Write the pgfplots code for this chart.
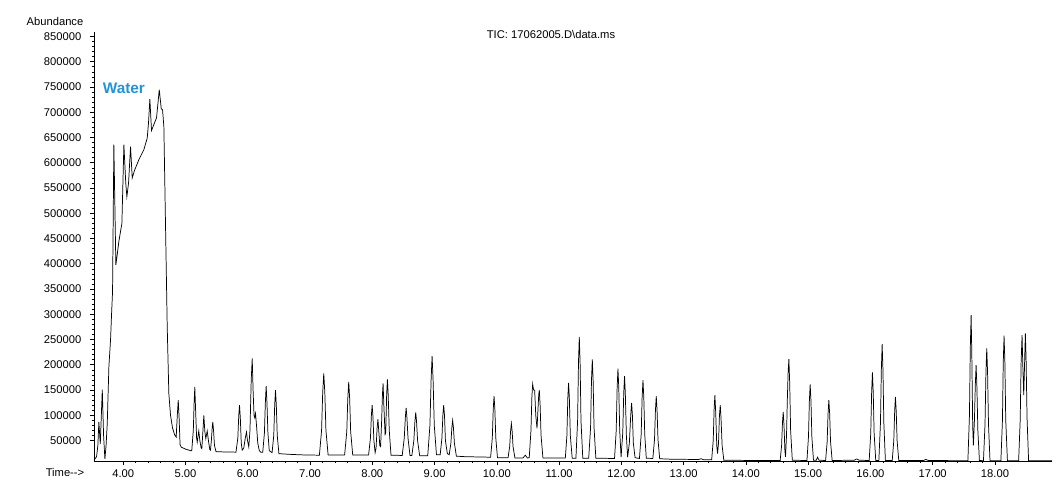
\documentclass[border=0pt]{standalone}
\usepackage{fontspec}
\setmainfont{Liberation Sans}
\usepackage{pgfplots}
\usepackage{pgfplotstable}
\pgfplotsset{compat=1.18}
\definecolor{waterblue}{RGB}{36,146,214}

\pgfplotstableread{
t v
3.530 11000
3.571 18000
3.592 40000
3.608 87000
3.631 43000
3.663 151000
3.684 60000
3.705 13500
3.724 40000
3.743 84000
3.769 196000
3.796 250000
3.812 300000
3.828 345000
3.849 636000
3.881 398000
3.900 415000
3.929 444000
3.978 480000
4.010 636000
4.040 560000
4.058 533000
4.085 560000
4.117 632000
4.144 570000
4.181 585000
4.250 606000
4.331 626000
4.385 649000
4.406 680000
4.427 726000
4.454 664000
4.502 679000
4.534 689000
4.559 720000
4.578 745000
4.610 707000
4.631 705000
4.652 672000
4.679 474000
4.706 275000
4.732 143000
4.759 100000
4.791 75000
4.823 62000
4.850 57000
4.868 100000
4.883 130000
4.897 95000
4.912 42000
4.930 37000
5.000 33000
5.080 30000
5.100 30000
5.125 70000
5.138 125000
5.149 156000
5.162 110000
5.178 55000
5.188 47000
5.200 58000
5.213 69000
5.230 50000
5.250 36000
5.262 34000
5.275 60000
5.294 100000
5.310 68000
5.326 54000
5.348 69000
5.370 48000
5.390 32000
5.401 31000
5.415 50000
5.428 75000
5.438 87000
5.450 70000
5.465 40000
5.490 28000
5.600 27500
5.810 27000
5.840 55000
5.855 100000
5.867 120000
5.880 95000
5.895 45000
5.910 31000
5.935 35000
5.960 55000
5.979 67000
5.995 50000
6.016 37300
6.035 70000
6.055 170000
6.071 212700
6.085 150000
6.100 100000
6.112 95000
6.124 103500
6.140 80000
6.160 45000
6.185 30000
6.210 27000
6.240 27000
6.267 65000
6.282 125000
6.295 157700
6.308 125000
6.323 65000
6.345 30000
6.390 26000
6.417 60000
6.432 120000
6.445 149800
6.458 120000
6.473 60000
6.500 24000
6.700 22500
6.900 21500
7.150 21000
7.185 70000
7.203 145000
7.220 182900
7.237 145000
7.255 70000
7.290 21500
7.555 21500
7.590 68000
7.606 133000
7.621 166200
7.636 133000
7.652 68000
7.685 21500
7.940 21500
7.970 55000
7.985 100000
7.997 120000
8.010 98000
8.025 50000
8.045 26000
8.060 35000
8.077 75000
8.090 92200
8.103 70000
8.120 40000
8.133 38000
8.150 90000
8.162 140000
8.173 163000
8.185 120000
8.205 62000
8.215 65000
8.230 140000
8.242 171000
8.255 140000
8.272 70000
8.300 21000
8.480 20500
8.513 55000
8.530 95000
8.543 114700
8.556 95000
8.573 55000
8.605 20500
8.635 20500
8.667 50000
8.684 88000
8.697 105500
8.710 88000
8.727 50000
8.760 20000
8.890 20000
8.925 80000
8.944 170000
8.960 217200
8.976 170000
8.995 80000
9.030 22000
9.090 22000
9.118 55000
9.133 100000
9.146 120000
9.159 100000
9.174 50000
9.205 24000
9.235 22000
9.262 45000
9.277 75000
9.290 90000
9.303 75000
9.318 45000
9.350 19000
9.500 18000
9.900 17000
9.927 55000
9.942 112000
9.955 138000
9.968 112000
9.983 55000
10.010 16000
10.180 16000
10.206 38000
10.220 68000
10.233 83700
10.246 68000
10.260 38000
10.290 15500
10.420 15500
10.457 21000
10.490 15500
10.520 16000
10.548 70000
10.562 135000
10.575 161700
10.590 150000
10.607 149800
10.625 100000
10.645 74000
10.660 110000
10.672 140000
10.682 149800
10.695 120000
10.710 60000
10.740 15500
11.100 15500
11.125 60000
11.140 135000
11.152 164300
11.164 135000
11.180 60000
11.210 15000
11.270 15000
11.297 90000
11.311 205000
11.324 255500
11.337 205000
11.351 90000
11.380 15000
11.475 15000
11.505 75000
11.520 170000
11.533 210600
11.546 170000
11.561 75000
11.590 15000
11.890 14500
11.917 70000
11.932 155000
11.945 192500
11.958 155000
11.973 70000
11.995 17000
12.022 65000
12.038 145000
12.051 177600
12.064 140000
12.080 60000
12.100 17000
12.128 45000
12.150 100000
12.164 124600
12.177 100000
12.192 45000
12.220 16000
12.290 14500
12.318 62000
12.333 135000
12.347 169600
12.360 135000
12.375 62000
12.400 15000
12.505 14500
12.532 52000
12.547 110000
12.560 137900
12.573 110000
12.588 52000
12.615 14000
12.800 13000
13.240 12500
13.280 14000
13.320 12000
13.450 12000
13.475 50000
13.490 115000
13.502 139800
13.515 105000
13.532 40000
13.544 24000
13.560 45000
13.575 100000
13.588 120000
13.600 95000
13.618 40000
13.645 11000
14.200 10500
14.550 10500
14.573 40000
14.587 85000
14.599 106700
14.612 80000
14.626 30000
14.636 17500
14.652 60000
14.665 130000
14.678 185000
14.690 211300
14.703 165000
14.718 70000
14.745 11000
14.980 10500
15.005 58000
15.019 128000
15.032 161000
15.045 128000
15.059 58000
15.085 11000
15.130 11000
15.150 17000
15.175 11000
15.280 10500
15.305 48000
15.319 103000
15.332 130000
15.345 103000
15.359 48000
15.385 10500
15.740 11000
15.780 13600
15.820 11000
15.980 10500
16.005 65000
16.019 145000
16.032 185000
16.045 145000
16.059 65000
16.085 10500
16.135 10500
16.161 85000
16.175 190000
16.188 241000
16.201 190000
16.215 85000
16.240 10500
16.350 10500
16.375 50000
16.389 108000
16.401 136500
16.414 108000
16.428 50000
16.455 10500
16.850 10500
16.890 12500
16.930 10500
17.565 10000
17.590 100000
17.604 235000
17.617 298500
17.628 220000
17.642 80000
17.653 40700
17.670 90000
17.684 160000
17.697 199400
17.710 155000
17.725 70000
17.750 10500
17.815 10000
17.840 82000
17.855 185000
17.868 232500
17.881 185000
17.896 82000
17.920 10000
18.095 10000
18.120 90000
18.133 205000
18.146 257500
18.159 205000
18.173 90000
18.200 10000
18.380 10000
18.405 90000
18.420 205000
18.435 258900
18.449 190000
18.462 139800
18.475 200000
18.488 262200
18.500 210000
18.515 95000
18.540 10000
18.916 9800
}\tic

\begin{document}
\begin{tikzpicture}
\useasboundingbox (-70.5pt,-17.25pt) rectangle (723.75pt,345.75pt);
\begin{axis}[
  at={(0pt,0pt)}, anchor=south west,
  scale only axis, width=718.5pt, height=321.75pt,
  xmin=3.53, xmax=18.916, ymin=9500, ymax=859000,
  axis lines*=left,
  axis line style={black, line width=0.6pt},
  xtick={4,5,6,7,8,9,10,11,12,13,14,15,16,17,18},
  minor x tick num=4,
  ytick={50000,100000,150000,200000,250000,300000,350000,400000,450000,500000,550000,600000,650000,700000,750000,800000,850000},
  minor y tick num=4,
  tick align=outside,
  major tick length=3pt, minor tick length=1.6pt,
  tick style={black, line width=0.5pt},
  scaled y ticks=false,
  /pgf/number format/assume math mode=true,
  yticklabel style={/pgf/number format/fixed, /pgf/number format/1000 sep={}, xshift=-3pt},
  xticklabel style={/pgf/number format/fixed, /pgf/number format/fixed zerofill, /pgf/number format/precision=2},
  ticklabel style={font=\fontsize{8.4}{10}\selectfont},
  clip=false,
]
\addplot[black, line width=0.55pt] table[x=t, y=v] {\tic};
\node[font=\bfseries\fontsize{11.5}{13}\selectfont, text=waterblue] at (axis cs:4.01,747400) {Water};
\end{axis}
\node[font=\fontsize{8.4}{10}\selectfont] at (-29.25pt,329.8pt) {Abundance};
\node[font=\fontsize{8.4}{10}\selectfont] at (342.75pt,320pt) {TIC: 17062005.D\textbackslash data.ms};
\node[font=\fontsize{8.4}{10}\selectfont] at (-21.75pt,-8.8pt) {Time-{}-{}>};
\end{tikzpicture}
\end{document}
